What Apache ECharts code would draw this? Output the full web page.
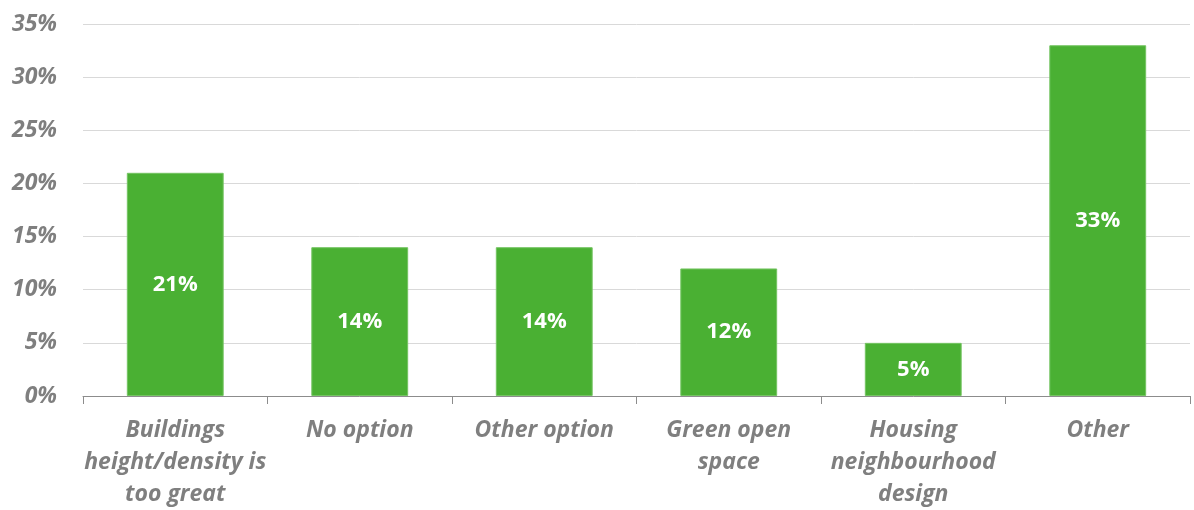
<!DOCTYPE html>
<html>
<head>
<meta charset="utf-8">
<script src="https://cdn.jsdelivr.net/npm/echarts@6/dist/echarts.min.js"></script>
<style>html,body{margin:0;padding:0;background:#fff}#c{width:1194px;height:510px}</style>
</head>
<body>
<div id="c"></div>
<script>
var categories = ["Buildings\nheight/density is\ntoo great", "No option", "Other option", "Green open\nspace", "Housing\nneighbourhood\ndesign", "Other"];
var values = [21, 14, 14, 12, 5, 33];
var yTicks = [0, 5, 10, 15, 20, 25, 30, 35];

var chart = echarts.init(document.getElementById('c'));
chart.setOption({
  animation: false,
  grid: {left: 83, right: 4, top: 24, bottom: 111},
  xAxis: {
    type: 'category',
    data: categories,
    axisLine: {lineStyle: {color: '#8c8c8c', width: 1}},
    axisTick: {show: true, length: 8, lineStyle: {color: '#8c8c8c'}},
    axisLabel: {
      color: '#7f7f7f', fontFamily: 'Open Sans', fontStyle: 'italic', fontWeight: 'bold',
      fontSize: 23, lineHeight: 32, margin: 18, interval: 0
    }
  },
  yAxis: {
    type: 'value', min: yTicks[0], max: yTicks[yTicks.length - 1], interval: 5,
    axisLine: {show: false}, axisTick: {show: false},
    splitLine: {lineStyle: {color: '#d9d9d9', width: 1}},
    axisLabel: {
      color: '#7f7f7f', fontFamily: 'Open Sans', fontStyle: 'italic', fontWeight: 'bold',
      fontSize: 23, margin: 26, formatter: function (v) { return v + '%'; }
    }
  },
  series: [{
    type: 'bar',
    data: values,
    barWidth: '52.5%',
    itemStyle: {color: '#4AB033', borderColor: '#74c462', borderWidth: 1},
    label: {
      show: true, position: 'inside', color: '#ffffff',
      fontFamily: 'Open Sans', fontWeight: 'bold', fontSize: 22,
      formatter: function (p) { return p.value + '%'; }
    }
  }]
});
</script>
</body>
</html>
